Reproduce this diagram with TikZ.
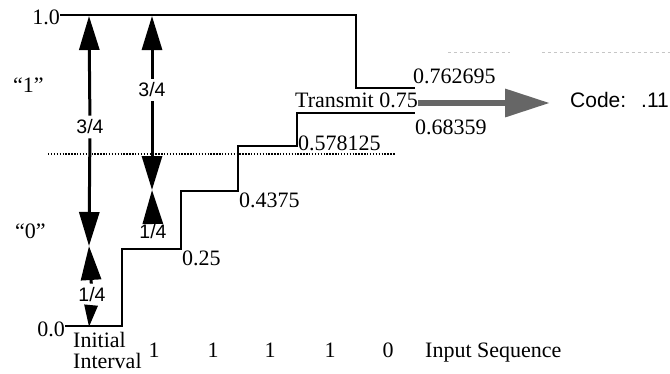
\documentclass[tikz,border=0pt]{standalone}
\usepackage{fontspec}
\setmainfont{Liberation Serif}
\newfontfamily\helv{Liberation Sans}
\usetikzlibrary{arrows.meta}
\begin{document}
\begin{tikzpicture}[x=1bp,y=-1bp,
  serif/.style={font=\fontsize{22bp}{24bp}\selectfont, inner sep=0pt},
  frac/.style={font=\helv\fontsize{19.5bp}{21bp}\selectfont, inner sep=4bp},
  codefont/.style={font=\helv\fontsize{21bp}{23bp}\selectfont, inner sep=0pt},
  stair/.style={line width=2.7bp, line join=miter},
  bigarrow/.style={line width=3bp, -{Triangle[length=34bp,width=20bp]}},
  smallarrow/.style={line width=3bp, -{Triangle[length=22bp,width=13bp]}},
  shadearrow/.style={line width=6.5bp, black!60, -{Triangle[length=45bp,width=27bp]}},
  halfline/.style={dash pattern=on 1.4bp off 1.5bp, line width=1.6bp},
  faint/.style={gray!45, dashed, line width=0.6bp}]
\useasboundingbox (0,0) rectangle (670,373);

% interval staircases
\draw[stair] (60,15) -- (356,15) -- (356,88) -- (415,88);
\draw[stair] (65,326) -- (122,326) -- (122,249) -- (181,249) -- (181,191)
  -- (238,191) -- (238,146) -- (297,146) -- (297,113) -- (415,113);

% half line and faint marks
\draw[halfline] (48,154) -- (396,154);
\draw[faint] (448,52) -- (510,52) (542,52) -- (670,52);

% axis labels
\node[serif, anchor=east] (one) at (60,17) {1.0};
\node[serif, anchor=east] (zero) at (65,329) {0.0};
\node[serif, anchor=base west] (q1) at (13,92) {“1”};
\node[serif, anchor=base west] (q0) at (15,238) {“0”};

% level values
\node[serif, anchor=west] (v25) at (182,258) {0.25};
\node[serif, anchor=west] (v4375) at (239,200) {0.4375};
\node[serif, anchor=west] (v578) at (298,143) {0.578125};
\node[serif, anchor=west] (v762) at (413,76) {0.762695};
\node[serif, anchor=west] (v683) at (415,127) {0.68359};

% transmit arrow
\node[serif, anchor=east] (tr) at (418,100) {Transmit 0.75};
\node[codefont, anchor=west] (code) at (570,100) {Code:};
\node[codefont, anchor=east] (bits) at (669,100) {.11};
\draw[shadearrow, shorten >=20bp] ([yshift=-3bp]tr.east) -- ([yshift=-3bp]code.west);

% first double arrow (initial interval)
\coordinate (t1) at (89,16);
\coordinate (m1) at (89,246);
\coordinate (b1) at (89,327);
\node[frac] (f1) at (90,127) {3/4};
\node[frac] (f2) at (92,295) {1/4};
\draw[bigarrow] (f1) -- (t1);
\draw[bigarrow] (f1) -- (m1);
\draw[bigarrow] (f2) -- (m1);
\draw[smallarrow] (f2) -- (b1);

% second double arrow
\coordinate (t2) at (152,16);
\coordinate (m2) at (152,190);
\node[frac] (f3) at (152,90) {3/4};
\node[frac] (f4) at (153,232) {1/4};
\draw[bigarrow] (f3) -- (t2);
\draw[bigarrow] (f3) -- (m2);
\draw[bigarrow] (f4) -- (m2);

% input sequence
\node[serif, anchor=base west] (ini) at (73,347) {Initial};
\node[serif, anchor=base west] (intv) at (73,368) {Interval};
\node[serif, anchor=base] (s1) at (154,357) {1};
\node[serif, anchor=base] (s2) at (213,357) {1};
\node[serif, anchor=base] (s3) at (270,357) {1};
\node[serif, anchor=base] (s4) at (330,357) {1};
\node[serif, anchor=base] (s5) at (388,357) {0};
\node[serif, anchor=base west] (inseq) at (425,357) {Input Sequence};
\end{tikzpicture}
\end{document}
